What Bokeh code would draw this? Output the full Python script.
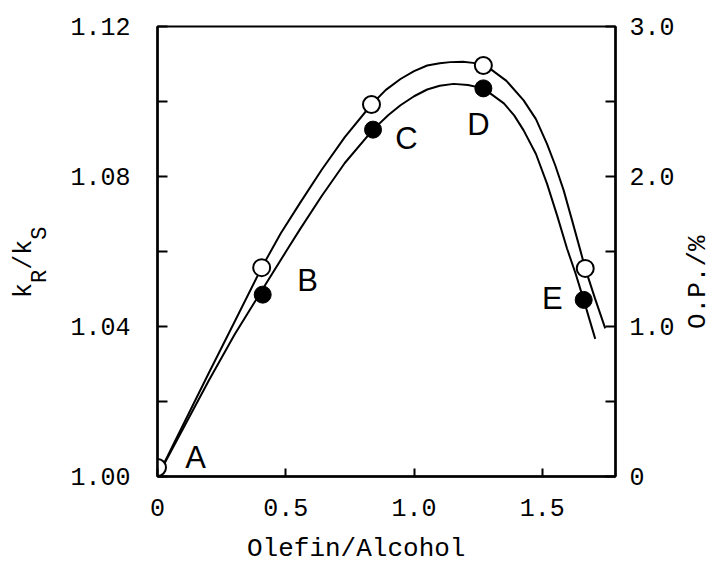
from bokeh.core.properties import value
from bokeh.embed import file_html
from bokeh.layouts import column, row
from bokeh.models import Div, FixedTicker, LinearAxis, Range1d
from bokeh.plotting import figure
from bokeh.resources import INLINE

# Olefin/Alcohol ratio of the five runs A-E
ratio = [0.0, 0.406, 0.834, 1.27, 1.667]
point_names = ["A", "B", "C", "D", "E"]
# open circles: kR/kS
kr_ks_open = [1.0024, 1.0557, 1.0992, 1.1096, 1.0555]
# filled circles (runs B-E)
ratio_filled = [0.41, 0.84, 1.27, 1.661]
kr_ks_filled = [1.0485, 1.0925, 1.1035, 1.0471]

# smooth curve drawn through the open circles
upper_x = [0.0, 0.10, 0.20, 0.30, 0.406, 0.48, 0.557, 0.64, 0.73, 0.834,
           0.89, 0.947, 1.00, 1.051, 1.10, 1.141, 1.19, 1.23, 1.27, 1.297,
           1.36, 1.427, 1.475, 1.518, 1.55, 1.583, 1.615, 1.648, 1.667,
           1.705, 1.745]
upper_y = [1.0000, 1.0138, 1.0276, 1.0412, 1.0557, 1.0648, 1.0731, 1.0818,
           1.0905, 1.0992, 1.1031, 1.1060, 1.1081, 1.1096, 1.1102, 1.1105,
           1.1106, 1.1103, 1.1096, 1.1087, 1.1055, 1.1003, 1.0953, 1.0887,
           1.0830, 1.0763, 1.0685, 1.0603, 1.0555, 1.0475, 1.0395]
# smooth curve drawn through the filled circles
lower_x = [0.0, 0.10, 0.20, 0.30, 0.41, 0.51, 0.557, 0.64, 0.73, 0.84,
           0.90, 0.947, 1.00, 1.051, 1.10, 1.154, 1.21, 1.27, 1.35, 1.39,
           1.427, 1.475, 1.518, 1.557, 1.596, 1.63, 1.661, 1.706]
lower_y = [1.0000, 1.0128, 1.0256, 1.0378, 1.0500, 1.0610, 1.0661, 1.0748,
           1.0836, 1.0925, 1.0964, 1.0990, 1.1014, 1.1032, 1.1042, 1.1047,
           1.1044, 1.1035, 1.0995, 1.0963, 1.0923, 1.0860, 1.0781, 1.0697,
           1.0608, 1.0540, 1.0471, 1.0367]

# axis ticks
x_ticks = [0, 0.5, 1.0, 1.5]
x_tick_labels = ["0", "0.5", "1.0", "1.5"]
left_ticks = [1.00, 1.04, 1.08, 1.12]
left_minor_ticks = [1.02, 1.06, 1.10]
left_tick_labels = ["1.00", "1.04", "1.08", "1.12"]
right_ticks = [0, 1, 2, 3]
right_minor_ticks = [0.5, 1.5, 2.5]
right_tick_labels = ["0", "1.0", "2.0", "3.0"]

MONO = "Liberation Mono"
SANS = "Liberation Sans"

p = figure(
    width=617, height=530,
    x_range=Range1d(0, 1.785), y_range=Range1d(1.0, 1.12),
    min_border_left=97, min_border_right=62,
    min_border_top=26, min_border_bottom=54,
    toolbar_location=None, output_backend="svg", margin=0,
)
p.background_fill_color = "white"
p.border_fill_color = "white"
p.grid.visible = False
p.outline_line_color = "black"
p.outline_line_width = 2

# optical purity axis on the right, same span as kR/kS (1.00-1.12 -> 0-3.0 %)
p.extra_y_ranges = {"op": Range1d(0, 3.0)}
right_axis = LinearAxis(y_range_name="op")
p.add_layout(right_axis, "right")


def style_axis(ax, ticks, minor, labels, standoff):
    ax.ticker = FixedTicker(ticks=ticks, minor_ticks=minor)
    ax.major_label_overrides = {t: s for t, s in zip(ticks, labels)}
    ax.major_tick_in = 10
    ax.major_tick_out = 0
    ax.minor_tick_in = 10
    ax.minor_tick_out = 0
    ax.major_tick_line_width = 2
    ax.minor_tick_line_width = 2
    ax.axis_line_width = 2.5
    ax.axis_line_color = "black"
    ax.major_label_text_font = MONO
    ax.major_label_text_font_size = "25px"
    ax.major_label_text_color = "black"
    ax.major_label_standoff = standoff


style_axis(p.yaxis[0], left_ticks, left_minor_ticks, left_tick_labels, 27)
style_axis(right_axis, right_ticks, right_minor_ticks, right_tick_labels, 14)
style_axis(p.xaxis[0], x_ticks, [], x_tick_labels, 22)
p.xaxis[0].major_tick_in = 8

# curves
p.line(upper_x, upper_y, line_color="black", line_width=2)
p.line(lower_x, lower_y, line_color="black", line_width=2)

# data points
p.scatter(ratio, kr_ks_open, size=17, fill_color="white",
          line_color="black", line_width=2)
p.scatter(ratio_filled, kr_ks_filled, size=17, fill_color="black",
          line_color="black", line_width=1)

# run letters, placed beside each open circle
name_dx = [38, 46, 35, -5, -33]
name_dy = [-10, 13, 34, 59, 30]
p.text(ratio, kr_ks_open, text=point_names, x_offset=name_dx, y_offset=name_dy,
       text_align="center", text_baseline="middle",
       text_font=value(SANS), text_font_size="31px", text_color="black")

# axis titles as HTML blocks around the plot
FONT_CSS = ("font-family:'Liberation Mono';line-height:16px;color:black;"
            "white-space:nowrap;")
SUB_CSS = "font-size:22px;position:relative;top:15px;"


def box(inner, w, h):
    return (f'<div style="position:relative;width:{w}px;height:{h}px;">'
            f'{inner}</div>')


def vertical(text, left, top, size):
    return (f'<span style="position:absolute;left:{left}px;top:{top}px;'
            f'transform-origin:0 0;transform:rotate(-90deg);font-size:{size}px;'
            f'{FONT_CSS}">{text}</span>')


kr_ks_title = f'k<span style="{SUB_CSS}">R</span>/k<span style="{SUB_CSS}">S</span>'
left_div = Div(text=box(vertical(kr_ks_title, 17, 298, 25), 60, 530),
               width=60, height=530, margin=0)
right_div = Div(text=box(vertical("O.P./%", 13, 329, 26), 36, 530),
                width=36, height=530, margin=0)
x_title = (f'<span style="position:absolute;left:247px;top:11px;font-size:26px;'
           f'{FONT_CSS}">Olefin/Alcohol</span>')
bottom_div = Div(text=box(x_title, 713, 35), width=713, height=35, margin=0)

page = column(row(left_div, p, right_div, spacing=0, margin=0), bottom_div,
              spacing=0, margin=0)

open("out.html", "w").write(file_html(page, INLINE))
